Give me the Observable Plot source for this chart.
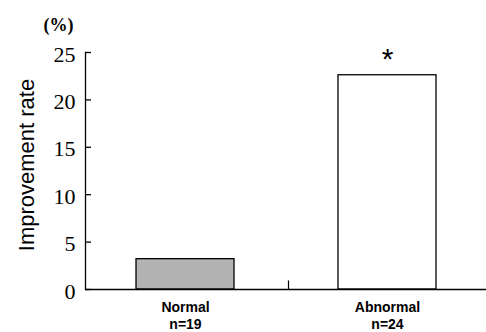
<!DOCTYPE html>
<html>
<head>
<meta charset="utf-8">
<script src="https://cdn.jsdelivr.net/npm/d3@7"></script>
<script src="https://cdn.jsdelivr.net/npm/@observablehq/plot@0.6"></script>
<style>
  html, body { margin: 0; padding: 0; background: #fff; }
  svg { display: block; }
  g[aria-label="ytick-label"] text { letter-spacing: 4px; }
</style>
</head>
<body>
<div id="chart"></div>
<script>
const categories = ["Normal", "Abnormal"];
const counts = ["n=19", "n=24"];
const values = [3.2, 22.6];
const significance = ["", "*"];
const yTicks = [0, 5, 10, 15, 20, 25];
const yUnit = "(%)";
const yTitle = "Improvement rate";

const data = categories.map((c, i) => ({category: c, n: counts[i], value: values[i], sig: significance[i]}));

const W = 486, ML = 85, MR = 0;

const chart = Plot.plot({
  width: W,
  height: 332,
  marginLeft: ML,
  marginRight: MR,
  marginTop: 52,
  marginBottom: 43,
  style: {background: "#fff", color: "#000"},
  x: {domain: categories, paddingInner: 0.516, paddingOuter: 0.248, axis: null},
  y: {domain: [0, 25], axis: null},
  marks: [
    Plot.barY(data, {x: "category", y: "value", fill: d => d.category === "Normal" ? "#b3b3b3" : "#fff", stroke: "#000", strokeWidth: 1.3}),
    Plot.ruleY([0], {stroke: "#000", strokeWidth: 1.3}),
    Plot.frame({anchor: "left", stroke: "#000", strokeWidth: 1.3}),
    Plot.ruleY(yTicks, {y: d => d, insetRight: W - ML - MR - 6, stroke: "#000", strokeWidth: 1.3}),
    Plot.text(yTicks, {y: d => d, text: d => String(d), frameAnchor: "left", textAnchor: "end", dx: -10, dy: 2, fontSize: 22, fontFamily: "Liberation Serif", ariaLabel: "ytick-label"}),
    Plot.ruleX(["Normal"], {x: d => d, dx: 103, y1: 0, y2: 0.9, stroke: "#000", strokeWidth: 1.2}),
    Plot.text(data, {x: "category", y: 0, text: d => d.category + "\n" + d.n, lineAnchor: "top", dy: 11, lineHeight: 1.2, fontSize: 14, fontWeight: "bold", fontFamily: "Liberation Sans"}),
    Plot.text(data, {x: "category", y: "value", text: "sig", lineAnchor: "bottom", dy: -6, fontSize: 30, fontFamily: "Liberation Sans"}),
    Plot.text([yUnit], {frameAnchor: "top-left", text: d => d, dx: -27, dy: -27, lineAnchor: "middle", textAnchor: "middle", fontSize: 18, fontWeight: "bold", fontFamily: "Liberation Serif"}),
    Plot.text([yTitle], {frameAnchor: "left", text: d => d, dx: -59, dy: -6, rotate: -90, textAnchor: "middle", fontSize: 22, fontFamily: "Liberation Sans"})
  ]
});
document.getElementById("chart").appendChild(chart);
</script>
</body>
</html>
